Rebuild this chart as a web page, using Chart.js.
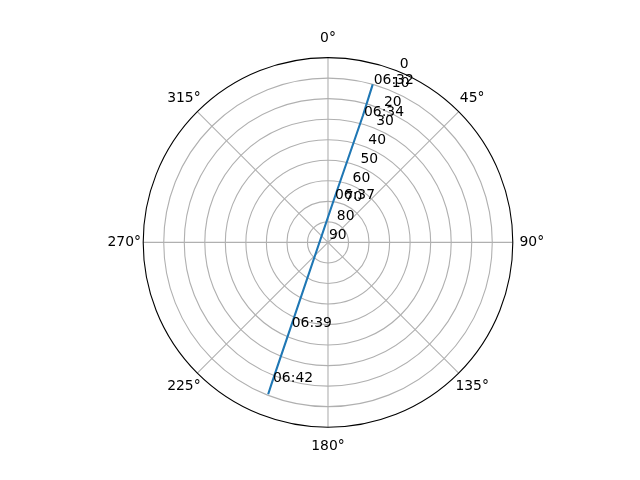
<!DOCTYPE html>
<html>
<head>
<meta charset="utf-8">
<script src="https://cdn.jsdelivr.net/npm/chart.js@4/dist/chart.umd.min.js"></script>
<style>
body { margin: 0; background: #fff; }
canvas { display: block; }
</style>
</head>
<body>
<canvas id="skyCanvas" width="640" height="480"></canvas>
<script>
// satellite pass, azimuth (deg, clockwise from north) and elevation (deg)
const passTimes = ['06:32', '06:34', '06:37', '06:39', '06:42', ''];
const passAzimuth = [15.8, 15.4, 7.9, 203.7, 201.8, 201.5];
const passElevation = [10, 25.9, 68.9, 44.9, 16.6, 10.5];

const elevationTicks = [0, 10, 20, 30, 40, 50, 60, 70, 80, 90];
const azimuthTicks = [0, 45, 90, 135, 180, 225, 270, 315];

const FONT = '13.9px "DejaVu Sans"';

// polar -> plane, radius = 90 - elevation (zenith at the centre)
function toXY(az, el) {
    const rho = 90 - el;
    const a = az * Math.PI / 180;
    return { x: rho * Math.sin(a), y: rho * Math.cos(a) };
}

const points = passAzimuth.map((az, i) => toXY(az, passElevation[i]));

const polarGrid = {
    id: 'polarGrid',
    beforeDatasetsDraw(chart) {
        const { ctx, scales: { x, y } } = chart;
        const cx = x.getPixelForValue(0);
        const cy = y.getPixelForValue(0);
        const unit = x.getPixelForValue(1) - cx;
        ctx.save();
        ctx.strokeStyle = '#b0b0b0';
        ctx.lineWidth = 1.1;
        // elevation rings
        elevationTicks.forEach(el => {
            const r = (90 - el) * unit;
            if (el === 0 || r <= 0) return;
            ctx.beginPath();
            ctx.arc(cx, cy, r, 0, Math.PI * 2);
            ctx.stroke();
        });
        // azimuth spokes
        azimuthTicks.forEach(az => {
            const p = toXY(az, 0);
            ctx.beginPath();
            ctx.moveTo(cx, cy);
            ctx.lineTo(x.getPixelForValue(p.x), y.getPixelForValue(p.y));
            ctx.stroke();
        });
        // outer spine
        ctx.strokeStyle = '#000';
        ctx.lineWidth = 1.1;
        ctx.beginPath();
        ctx.arc(cx, cy, 90 * unit, 0, Math.PI * 2);
        ctx.stroke();
        ctx.restore();
    },
    afterDatasetsDraw(chart) {
        const { ctx, scales: { x, y } } = chart;
        const cx = x.getPixelForValue(0);
        const cy = y.getPixelForValue(0);
        const unit = x.getPixelForValue(1) - cx;
        ctx.save();
        ctx.font = FONT;
        ctx.fillStyle = '#000';

        // azimuth labels outside the spine
        ctx.textAlign = 'center';
        ctx.textBaseline = 'middle';
        azimuthTicks.forEach(az => {
            const a = az * Math.PI / 180;
            const r = 90 * unit + 19;
            ctx.fillText(az + '°', cx + r * Math.sin(a), cy - r * Math.cos(a));
        });

        // elevation labels along 22.5 deg
        ctx.textAlign = 'left';
        ctx.textBaseline = 'bottom';
        elevationTicks.forEach(el => {
            const p = toXY(22.5, el);
            ctx.fillText(String(el), x.getPixelForValue(p.x) + 1, y.getPixelForValue(p.y));
        });

        // time annotations
        ctx.textBaseline = 'alphabetic';
        points.forEach((p, i) => {
            if (!passTimes[i]) return;
            ctx.fillText(passTimes[i], x.getPixelForValue(p.x) + 1, y.getPixelForValue(p.y));
        });
        ctx.restore();
    }
};

new Chart(document.getElementById('skyCanvas'), {
    type: 'scatter',
    data: {
        datasets: [{
            data: points,
            showLine: true,
            borderColor: '#1f77b4',
            borderWidth: 2.1,
            pointRadius: 0,
            fill: false,
            tension: 0
        }]
    },
    options: {
        responsive: false,
        animation: false,
        devicePixelRatio: 1,
        layout: { padding: { left: 143.2, right: 127.2, top: 57.6, bottom: 52.8 } },
        scales: {
            x: { type: 'linear', min: -90, max: 90, display: false },
            y: { type: 'linear', min: -90, max: 90, display: false }
        },
        plugins: {
            legend: { display: false },
            tooltip: { enabled: false }
        }
    },
    plugins: [polarGrid]
});
</script>
</body>
</html>
